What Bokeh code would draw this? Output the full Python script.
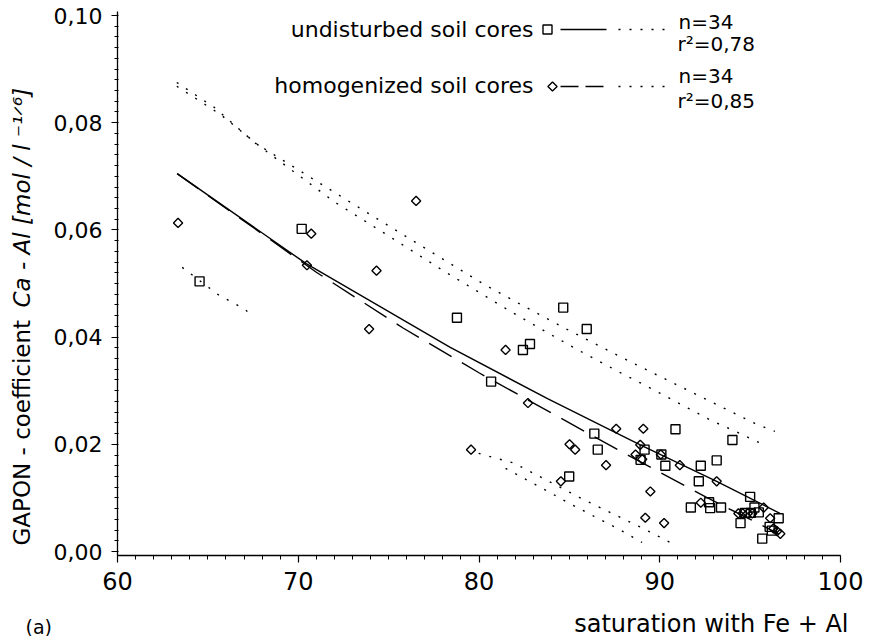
import math
from bokeh.plotting import figure
from bokeh.models import Range1d, SingleIntervalTicker, CustomJSTickFormatter, Label
from bokeh.embed import file_html
from bokeh.resources import INLINE

# ---------------- data ----------------
# undisturbed soil cores (squares)
und_x = [64.54, 70.19, 78.78, 80.67, 82.43, 82.82, 84.66, 85.96, 86.38, 86.57, 84.99, 90.87,
         89.16, 88.94, 90.09, 90.31, 92.27, 93.15, 94.02, 92.16, 95.00, 92.73, 91.72, 92.79,
         93.39, 95.24, 94.47, 96.58, 96.08, 95.67, 94.71, 95.04, 95.48, 96.20]
und_y = [0.0504, 0.0602, 0.0436, 0.0317, 0.0376, 0.0387, 0.0455, 0.0415, 0.0220, 0.0190, 0.0140, 0.0228,
         0.0190, 0.0171, 0.0181, 0.0160, 0.0160, 0.0170, 0.0208, 0.0131, 0.0102, 0.0092, 0.0082, 0.0081,
         0.0082, 0.0082, 0.0053, 0.0062, 0.0046, 0.0024, 0.0072, 0.0072, 0.0073, 0.0039]

# homogenized soil cores (diamonds)
hom_x = [63.35, 70.48, 70.72, 74.33, 76.52, 73.92, 81.47, 82.71, 79.56, 87.59, 89.09, 85.01,
         85.32, 87.03, 84.53, 88.92, 88.66, 90.06, 91.11, 89.48, 93.15, 92.27, 89.20, 90.24,
         95.75, 96.11, 94.35, 94.59, 94.87, 96.67, 96.29, 96.49, 89.03, 95.12]
hom_y = [0.0613, 0.0534, 0.0593, 0.0524, 0.0654, 0.0415, 0.0376, 0.0277, 0.0190, 0.0229, 0.0229, 0.0200,
         0.0190, 0.0161, 0.0131, 0.0199, 0.0181, 0.0181, 0.0161, 0.0112, 0.0131, 0.0091, 0.0063, 0.0053,
         0.0082, 0.0062, 0.0071, 0.0071, 0.0071, 0.0033, 0.0043, 0.0038, 0.0172, 0.0071]

# regression curves
fit_und_x = [63.30, 70.44, 78.41, 83.79, 88.92, 93.15, 96.65]
fit_und_y = [0.0705, 0.0537, 0.0381, 0.0285, 0.0199, 0.0131, 0.0071]
fit_hom_x = [63.30, 71.00, 75.80, 80.02, 87.83, 92.59, 96.58]
fit_hom_y = [0.0705, 0.0521, 0.0417, 0.0333, 0.0187, 0.0101, 0.0033]

# dotted confidence bands (segments)
band_und_xs = [[63.28, 65.34, 67.62, 73.01, 76.91, 80.30, 82.30, 84.90, 88.01, 95.26, 96.37],
               [63.58, 65.62, 67.10, 67.41],
               [81.47, 82.73, 84.03, 84.99, 86.57, 87.83, 89.02]]
band_und_ys = [[0.0875, 0.0829, 0.0762, 0.0649, 0.0568, 0.0498, 0.0461, 0.0414, 0.0360, 0.0239, 0.0224],
               [0.0530, 0.0478, 0.0451, 0.0437],
               [0.0155, 0.0132, 0.0108, 0.0090, 0.0062, 0.0040, 0.0017]]
band_hom_xs = [[63.28, 65.71, 67.94, 72.01, 74.52, 78.02, 81.84, 85.31, 87.86, 89.14, 92.87, 94.26, 95.82],
               [79.98, 81.93, 83.97, 85.55, 87.12, 88.66, 89.72, 90.74]]
band_hom_ys = [[0.0868, 0.0815, 0.0754, 0.0652, 0.0599, 0.0524, 0.0446, 0.0379, 0.0333, 0.0311, 0.0244, 0.0223, 0.0198],
               [0.0183, 0.0165, 0.0129, 0.0101, 0.0075, 0.0050, 0.0032, 0.0014]]

x_ticks_interval = 10
y_ticks_interval = 0.02
series_labels = ["undisturbed soil cores", "homogenized soil cores"]
stats_n = ["n=34", "n=34"]
stats_r2 = ["r\u00b2=0,78", "r\u00b2=0,85"]
x_label = "saturation with Fe + Al"
y_label_parts = ["GAPON - coefficient", "Ca - Al [mol / l \u207b\u00b9\u141f\u2076]"]
panel_tag = "(a)"

# ---------------- layout ----------------
FONT = "DejaVu Sans"
W, H = 866, 636
AX_L, AX_R = 117, 840          # canvas px of x = 60 and x = 100
AX_T, AX_B = 15, 551           # canvas px of y = 0.10 and y = 0.00
XA, XB = 60.0, 100.0
YA, YB = 0.0, 0.10
kx = (XB - XA) / (AX_R - AX_L)
ky = (YB - YA) / (AX_B - AX_T)
x_start, x_end = XA - AX_L * kx, XB + (W - AX_R) * kx
y_end, y_start = YB + AX_T * ky, YA - (H - AX_B) * ky
x_axis_at = YA - 4 * ky         # x axis line a little below 0
DOT = "2 9"


def X(px):   # canvas pixel -> data x
    return x_start + px * kx


def Y(py):   # canvas pixel -> data y
    return y_end - py * ky


def text(txt, px, py, size, align="left", style="normal", angle=0.0, baseline="middle"):
    p.add_layout(Label(x=X(px), y=Y(py), text=txt, text_align=align, text_baseline=baseline,
                       text_font=FONT, text_font_size=size, text_font_style=style,
                       text_color="black", angle=angle))


p = figure(width=W, height=H, min_border=0,
           x_range=Range1d(x_start, x_end), y_range=Range1d(y_start, y_end),
           output_backend="svg", toolbar_location=None)
p.grid.visible = False
p.outline_line_color = None

xa, ya = p.xaxis[0], p.yaxis[0]
xa.fixed_location = x_axis_at
ya.fixed_location = XA
xa.bounds = (XA, XB)
ya.bounds = (x_axis_at, YB + 0.0007)
for ax in (xa, ya):
    ax.axis_line_color = "black"
    ax.axis_line_width = 1.3
    ax.major_tick_line_color = "black"
    ax.minor_tick_line_color = "black"
    ax.major_tick_line_width = 1.2
    ax.minor_tick_line_width = 1
    ax.major_label_text_font = FONT
    ax.major_label_text_color = "black"
xa.major_label_text_font_size = "24px"
ya.major_label_text_font_size = "22px"

xa.ticker = SingleIntervalTicker(interval=x_ticks_interval, num_minor_ticks=10)
ya.ticker = SingleIntervalTicker(interval=y_ticks_interval, num_minor_ticks=10)
xa.formatter = CustomJSTickFormatter(code="return tick.toFixed(0);")
ya.formatter = CustomJSTickFormatter(code="return tick.toFixed(2).replace('.', ',');")
xa.major_tick_out = 7
xa.major_tick_in = 0
xa.minor_tick_out = 4
xa.minor_tick_in = 0
xa.major_label_standoff = 9
ya.major_tick_out = 6
ya.major_tick_in = 0
ya.minor_tick_out = 3
ya.minor_tick_in = 1
ya.major_label_standoff = 9

# ---------------- marks ----------------
p.multi_line(band_und_xs, band_und_ys, line_color="black", line_width=1.4, line_dash=DOT)
p.multi_line(band_hom_xs, band_hom_ys, line_color="black", line_width=1.4, line_dash=DOT)
p.line(fit_und_x, fit_und_y, line_color="black", line_width=1.4)
p.line(fit_hom_x, fit_hom_y, line_color="black", line_width=1.4, line_dash="26 12")
p.scatter(und_x, und_y, marker="square", size=9, fill_alpha=0.0,
          line_color="black", line_width=1.4)
p.scatter(hom_x, hom_y, marker="square", angle=math.pi / 4, size=6.5,
          fill_alpha=0.0, line_color="black", line_width=1.4)

# ---------------- legend (drawn) ----------------
rows = [dict(ty=29, my=29, n_y=21, r_y=43, mx=547, marker="square", size=9, angle=0.0, dash="solid"),
        dict(ty=85, my=86, n_y=75, r_y=100, mx=552, marker="square", size=6.5, angle=math.pi / 4,
             dash="18 7")]
for i, r in enumerate(rows):
    text(series_labels[i], 533, r["ty"], "22px", align="right")
    p.scatter([X(r["mx"])], [Y(r["my"])], marker=r["marker"], size=r["size"],
              angle=r["angle"], fill_alpha=0.0, line_color="black", line_width=1.4)
    p.line([X(560), X(606)], [Y(r["my"])] * 2, line_color="black", line_width=1.4,
           line_dash=r["dash"])
    p.line([X(618), X(668)], [Y(r["my"])] * 2, line_color="black", line_width=1.4,
           line_dash=DOT)
    text(stats_n[i], 678, r["n_y"], "20px")
    text(stats_r2[i], 677, r["r_y"], "20px")

# ---------------- axis titles ----------------
text(x_label, 848, 623, "24px", align="right")
text(panel_tag, 25, 626, "19px")

text(y_label_parts[0], 21, 545, "23px", angle=math.pi / 2, baseline="alphabetic")
text(y_label_parts[1], 21, 307, "23px", style="italic", angle=math.pi / 2, baseline="alphabetic")

open("out.html", "w").write(file_html(p, INLINE))
